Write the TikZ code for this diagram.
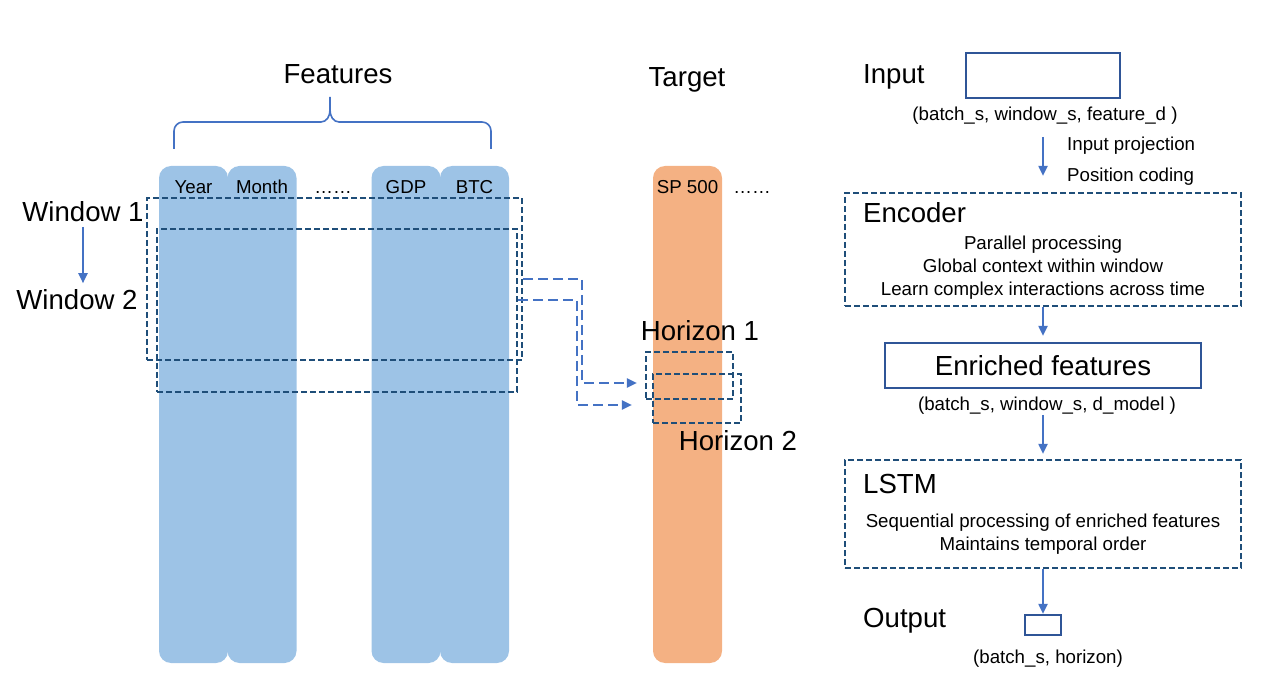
\documentclass[tikz,border=0pt]{standalone}
\usepackage{fontspec}
\setmainfont{Liberation Sans}
\usetikzlibrary{arrows.meta,positioning}
\definecolor{featblue}{HTML}{9DC3E6}
\definecolor{targorange}{HTML}{F4B183}
\definecolor{darkline}{HTML}{1F4E79}
\definecolor{boxline}{HTML}{2F5597}
\definecolor{arrowblue}{HTML}{4472C4}
\tikzstyle{big}=[inner sep=0pt,text height=24.5pt,text depth=4.7pt,font=\fontsize{27.6}{32}\selectfont]
\tikzstyle{small}=[inner sep=0pt,text height=16.5pt,text depth=3.1pt,font=\fontsize{18.7}{22}\selectfont]
\tikzstyle{column}=[rectangle,rounded corners=12pt,minimum width=69pt,minimum height=497pt,inner sep=0pt]
\tikzstyle{window}=[draw=darkline,line width=2.2pt,dash pattern=on 6pt off 3pt,inner sep=0pt]
\tikzstyle{stage}=[window,minimum width=396pt]
\tikzstyle{dimbox}=[draw=boxline,line width=2.2pt,inner sep=0pt]
\tikzstyle{flow}=[draw=arrowblue,line width=2pt,-{Triangle[width=9pt,length=10pt]}]
\tikzstyle{link}=[flow,dash pattern=on 10pt off 5pt]

\begin{document}
\begin{tikzpicture}[x=1pt,y=-1pt]
    \useasboundingbox (0,0) rectangle (1280,692);

    % Feature columns and the target column
    \foreach \pos/\name/\lbl in {{(193.5,414.5)/year/Year}, {(262,414.5)/month/Month}, {(406,414.5)/gdp/GDP}, {(474.5,414.5)/btc/BTC}}
    {
        \node[column,fill=featblue] (\name) at \pos {};
        \node[small] (\name-lbl) at ([yshift=-21pt]\name.north) {\lbl};
    }
    \node[small] (featdots) at (333,187) {……};
    \node[column,fill=targorange] (sp) at (687.5,414.5) {};
    \node[small] (sp-lbl) at ([yshift=-21pt]sp.north) {SP 500};
    \node[small] (targdots) at (752,187) {……};

    % Titles and the brace
    \node[big] (feattitle) at (338,74) {Features};
    \node[big] (targtitle) at (687,77) {Target};
    \draw[arrowblue,line width=1.6pt] (174,149) -- (174,131) to[out=90,in=180] (183,122) -- (321,122)
        to[out=0,in=270] (330,110) -- (330,97);
    \draw[arrowblue,line width=1.6pt] (330,110) to[out=270,in=180] (339,122) -- (482,122)
        to[out=0,in=90] (491,131) -- (491,149);

    % Sliding windows
    \node[window,minimum width=375pt,minimum height=162pt] (win1) at (334.5,279) {};
    \node[window,minimum width=360pt,minimum height=163pt] (win2) at (337,310.5) {};
    \node[big] (win1-lbl) at (83,212) {Window 1};
    \node[big] (win2-lbl) at (77,300) {Window 2};
    \draw[flow,shorten >=2pt] (win1-lbl.south) -- (win1-lbl.south |- win2-lbl.north);

    % Forecast horizons
    \node[window,minimum width=87pt,minimum height=47pt] (hor1) at (689.5,375.5) {};
    \node[window,minimum width=88pt,minimum height=49pt] (hor2) at (697,398.5) {};
    \node[big] (hor1-lbl) at (700,331) {Horizon 1};
    \node[big] (hor2-lbl) at (738,441) {Horizon 2};

    % Windows map to horizons
    \draw[link] (win1.east) -- ++(59,0) |- ([xshift=-8pt,yshift=-7.5pt]hor1.west);
    \draw[link] ([yshift=10.5pt]win2.east) -- ++(59,0) |- ([xshift=-20pt,yshift=-6.5pt]hor2.west);

    % Model pipeline
    \node[big,anchor=west] (inlbl) at (863,74) {Input};
    \node[dimbox,minimum width=154pt,minimum height=45pt] (inbox) at (1043,75.5) {};
    \node[small] (indim) at (1045,114) {(batch\_s, window\_s, feature\_d )};
    \node[small,anchor=west] (proj) at (1067,144) {Input projection};
    \node[small,anchor=west] (poscode) at (1067,175) {Position coding};

    \node[stage,minimum height=113pt] (enc) at (1043,249.5) {};
    \node[big,anchor=west] (enc-lbl) at (863,213) {Encoder};
    \foreach \y/\name/\lbl in {243/enc-a/Parallel processing, 266/enc-b/Global context within window, 289/enc-c/Learn complex interactions across time}
        \node[small] (\name) at (1043,\y) {\lbl};

    \node[dimbox,big,minimum width=316pt,minimum height=45pt] (enrich) at (1043,365.5) {Enriched features};
    \node[small] (encdim) at (1047,404) {(batch\_s, window\_s, d\_model )};

    \node[stage,minimum height=108pt] (lstm) at (1043,514) {};
    \node[big,anchor=west] (lstm-lbl) at (863,484) {LSTM};
    \foreach \y/\name/\lbl in {521/lstm-a/Sequential processing of enriched features, 544/lstm-b/Maintains temporal order}
        \node[small] (\name) at (1043,\y) {\lbl};

    \node[big,anchor=west] (out-lbl) at (863,618) {Output};
    \node[dimbox,minimum width=36pt,minimum height=20pt] (outbox) at (1043,625) {};
    \node[small] (outdim) at (1048,657) {(batch\_s, horizon)};

    % Connect the stages
    \draw[flow,shorten <=13pt,shorten >=16pt] (enc.north |- indim.south) -- (enc.north);
    \draw[flow,shorten >=6pt] (enc.south) -- (enrich.north);
    \draw[flow,shorten <=1pt,shorten >=5pt] (lstm.north |- encdim.south) -- (lstm.north);
    \draw[flow] (lstm.south) -- (outbox.north);
\end{tikzpicture}
\end{document}
